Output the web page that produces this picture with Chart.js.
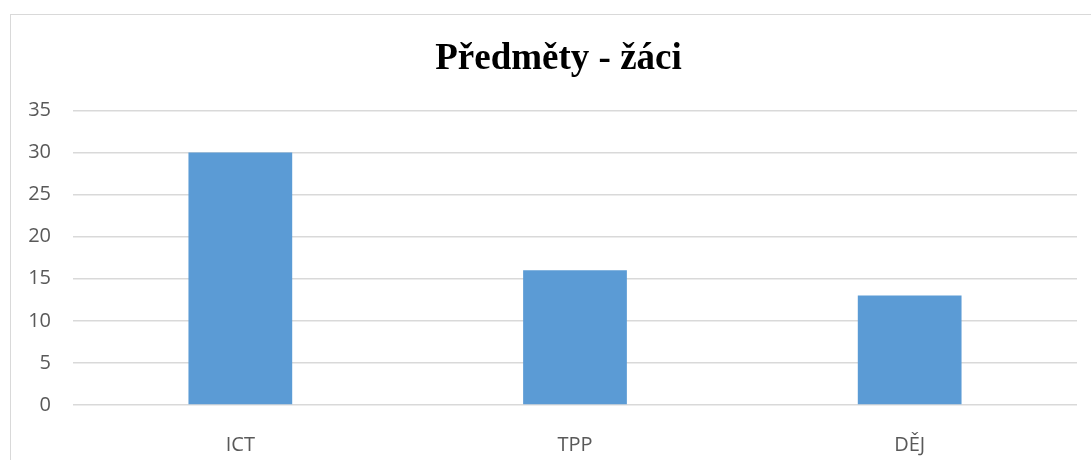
<!DOCTYPE html>
<html>
<head>
<meta charset="utf-8">
<script src="https://cdn.jsdelivr.net/npm/chart.js@4"></script>
<style>
  html, body { margin: 0; padding: 0; background: #fff; }
  #wrap { width: 1091px; height: 460px; position: relative; }
</style>
</head>
<body>
<div id="wrap"><canvas id="myChart" width="1091" height="460"></canvas></div>
<script>
// chart data
var categories = ['ICT', 'TPP', 'DĚJ'];
var pupils = [30, 16, 13];
var yTicks = [0, 5, 10, 15, 20, 25, 30, 35];

// white background + light frame (left and top edges visible)
var frame = {
  id: 'frame',
  beforeDraw: function (chart) {
    var c = chart.ctx;
    c.save();
    c.fillStyle = '#ffffff';
    c.fillRect(0, 0, chart.width, chart.height);
    c.strokeStyle = '#d9d9d9';
    c.lineWidth = 1;
    c.strokeRect(10.5, 14.5, chart.width + 20, chart.height + 20);
    c.restore();
  }
};

// the original title sits a bit right of the canvas centre
var titleShift = {
  id: 'titleShift',
  afterLayout: function (chart) {
    if (chart.titleBlock) chart.titleBlock.left += 30;
  }
};

var ctx = document.getElementById('myChart').getContext('2d');
var myChart = new Chart(ctx, {
  type: 'bar',
  data: {
    labels: categories,
    datasets: [{
      data: pupils,
      backgroundColor: '#5b9bd5',
      barPercentage: 0.31,
      categoryPercentage: 1
    }]
  },
  options: {
    responsive: false,
    animation: false,
    layout: { padding: { left: 10, right: 14, top: 0, bottom: 0 } },
    plugins: {
      legend: { display: false },
      tooltip: { enabled: false },
      title: {
        display: true,
        text: 'Předměty - žáci',
        color: '#000000',
        font: { family: '"Liberation Serif", "Times New Roman", serif', size: 37, weight: 'bold', lineHeight: 1.2 },
        padding: { top: 37, bottom: 29 }
      }
    },
    scales: {
      x: {
        grid: { display: false },
        border: { display: false },
        ticks: {
          color: '#595959',
          font: { family: '"Open Sans", sans-serif', size: 20 },
          padding: 20
        },
        afterFit: function (s) { s.height = 55; }
      },
      y: {
        min: 0,
        max: 35,
        afterBuildTicks: function (s) { s.ticks = yTicks.map(function (v) { return { value: v }; }); },
        grid: { color: '#d9d9d9', lineWidth: 1.5, drawTicks: false },
        border: { display: false },
        ticks: {
          color: '#595959',
          font: { family: '"Open Sans", sans-serif', size: 20 },
          padding: 22
        },
        afterFit: function (s) { s.width = 63; }
      }
    }
  },
  plugins: [frame, titleShift]
});
</script>
</body>
</html>
